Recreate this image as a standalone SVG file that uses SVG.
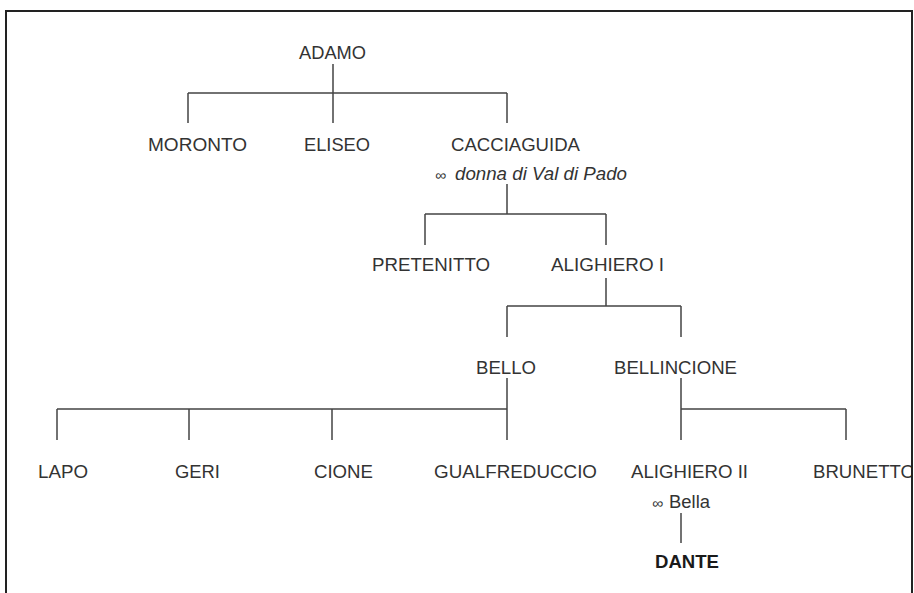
<svg xmlns="http://www.w3.org/2000/svg" width="914" height="593" viewBox="0 0 914 593">
  <style>
    .n { font-family: "Liberation Sans", Arial, sans-serif; font-size: 17.5px; fill: #333; }
    .it { font-style: italic; }
    .inf { font-family: "Liberation Sans", Arial, sans-serif; font-size: 14px; fill: #333; }
    .b { font-weight: bold; fill: #1a1a1a; }
    .c { stroke: #444; stroke-width: 1.5; fill: none; }
    .frame { stroke: #222; stroke-width: 2; fill: none; }
  </style>
  <rect x="0" y="0" width="914" height="593" fill="#fff"/>
  <g id="connectors">
    <path class="c" d="M333 64V93M188 93H507M188 93V123M333 93V123M507 93V123"/>
    <path class="c" d="M507 184V214M425 214H606M425 214V245M606 214V245"/>
    <path class="c" d="M606 278V306M507 306H681M507 306V337M681 306V337"/>
    <path class="c" d="M507 378V440M57 409H507M57 409V440M189 409V440M332 409V440"/>
    <path class="c" d="M681 378V440M681 409H846M846 409V440"/>
    <path class="c" d="M681 513V543"/>
  </g>
  <g id="adamo"><text class="n" x="299" y="59" textLength="67" lengthAdjust="spacingAndGlyphs">ADAMO</text></g>
  <g id="moronto"><text class="n" x="148" y="151" textLength="99" lengthAdjust="spacingAndGlyphs">MORONTO</text></g>
  <g id="eliseo"><text class="n" x="304" y="151" textLength="66" lengthAdjust="spacingAndGlyphs">ELISEO</text></g>
  <g id="cacciaguida">
    <text class="n" x="451" y="151" textLength="129" lengthAdjust="spacingAndGlyphs">CACCIAGUIDA</text>
    <text class="inf" x="435" y="180" textLength="11" lengthAdjust="spacingAndGlyphs">∞</text>
    <text class="n it" x="455" y="180" textLength="172" lengthAdjust="spacingAndGlyphs">donna di Val di Pado</text>
  </g>
  <g id="pretenitto"><text class="n" x="372" y="271" textLength="118" lengthAdjust="spacingAndGlyphs">PRETENITTO</text></g>
  <g id="alighiero1"><text class="n" x="551" y="271" textLength="113" lengthAdjust="spacingAndGlyphs">ALIGHIERO I</text></g>
  <g id="bello"><text class="n" x="476" y="374" textLength="60" lengthAdjust="spacingAndGlyphs">BELLO</text></g>
  <g id="bellincione"><text class="n" x="614" y="374" textLength="123" lengthAdjust="spacingAndGlyphs">BELLINCIONE</text></g>
  <g id="lapo"><text class="n" x="38" y="478" textLength="50" lengthAdjust="spacingAndGlyphs">LAPO</text></g>
  <g id="geri"><text class="n" x="175" y="478" textLength="45" lengthAdjust="spacingAndGlyphs">GERI</text></g>
  <g id="cione"><text class="n" x="314" y="478" textLength="59" lengthAdjust="spacingAndGlyphs">CIONE</text></g>
  <g id="gualfreduccio"><text class="n" x="434" y="478" textLength="163" lengthAdjust="spacingAndGlyphs">GUALFREDUCCIO</text></g>
  <g id="alighiero2">
    <text class="n" x="631" y="478" textLength="117" lengthAdjust="spacingAndGlyphs">ALIGHIERO II</text>
    <text class="inf" x="652" y="508" textLength="11" lengthAdjust="spacingAndGlyphs">∞</text>
    <text class="n" x="669" y="508" textLength="41" lengthAdjust="spacingAndGlyphs">Bella</text>
  </g>
  <g id="brunetto"><text class="n" x="813" y="478" textLength="102" lengthAdjust="spacingAndGlyphs">BRUNETTO</text></g>
  <g id="dante"><text class="n b" x="655" y="568" textLength="64" lengthAdjust="spacingAndGlyphs">DANTE</text></g>
  <rect x="912" y="0" width="2" height="593" fill="#fff"/>
  <path class="frame" d="M6 594V11H912V594"/>
</svg>
